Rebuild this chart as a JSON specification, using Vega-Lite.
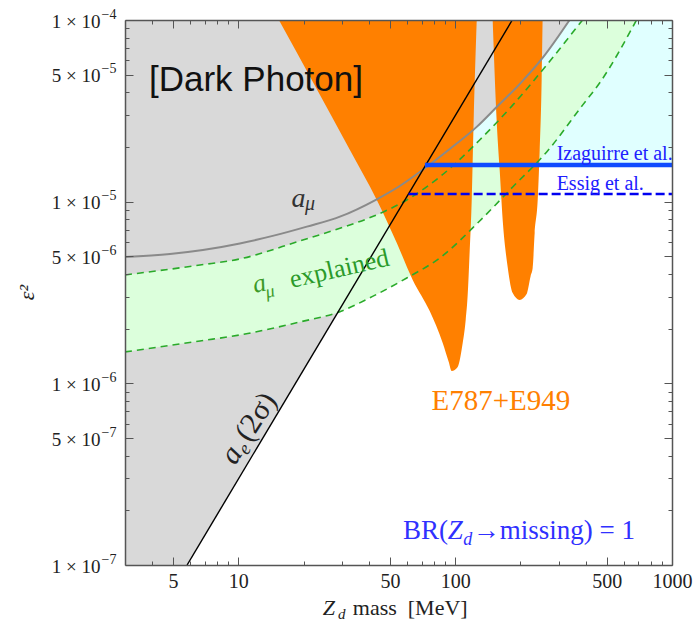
{
  "$schema": "https://vega.github.io/schema/vega-lite/v6.json",
  "width": 547,
  "height": 545,
  "autosize": {"type": "none"},
  "padding": {"left": 125, "top": 20, "right": 23, "bottom": 58},
  "background": "white",
  "config": {"view": {"stroke": null}, "axis": {"grid": false}},
  "datasets": {
    "cyan_region": [
      {"m": 72.5, "lo": 1.59e-5},
      {"m": 1000, "lo": 1.59e-5}
    ],
    "gray_region": [
      {"m": 3, "lo": 1e-7},
      {"m": 5.8, "lo": 1e-7},
      {"m": 71.6, "lo": 1.52e-5},
      {"m": 94.4, "lo": 1.95e-5},
      {"m": 125.7, "lo": 2.58e-5},
      {"m": 155.4, "lo": 3.32e-5},
      {"m": 198.4, "lo": 4.44e-5},
      {"m": 253, "lo": 6.18e-5},
      {"m": 337, "lo": 1e-4}
    ],
    "amu_curve": [
      {"m": 3, "eps": 4.96e-6},
      {"m": 4.835, "eps": 5.155e-6},
      {"m": 6.86, "eps": 5.42e-6},
      {"m": 10.16, "eps": 5.89e-6},
      {"m": 14.4, "eps": 6.48e-6},
      {"m": 20.7, "eps": 7.29e-6},
      {"m": 29.4, "eps": 8.27e-6},
      {"m": 43.5, "eps": 1.031e-5},
      {"m": 55.5, "eps": 1.22e-5},
      {"m": 71.6, "eps": 1.513e-5},
      {"m": 94.4, "eps": 1.95e-5},
      {"m": 125.7, "eps": 2.58e-5},
      {"m": 155.4, "eps": 3.32e-5},
      {"m": 198.4, "eps": 4.44e-5},
      {"m": 253, "eps": 6.18e-5},
      {"m": 337, "eps": 1e-4}
    ],
    "amu_band": [
      {"m": 3, "lo": 1.489e-6, "hi": 3.95e-6},
      {"m": 6.65, "lo": 1.711e-6, "hi": 4.48e-6},
      {"m": 10.16, "lo": 1.846e-6, "hi": 4.84e-6},
      {"m": 19.2, "lo": 2.177e-6, "hi": 6.08e-6},
      {"m": 29.4, "lo": 2.48e-6, "hi": 7.14e-6},
      {"m": 41.6, "lo": 3.01e-6, "hi": 8.28e-6},
      {"m": 59.8, "lo": 3.8e-6, "hi": 1.022e-5},
      {"m": 84.9, "lo": 4.9e-6, "hi": 1.368e-5},
      {"m": 129.7, "lo": 7.83e-6, "hi": 2.185e-5},
      {"m": 184.2, "lo": 1.205e-5, "hi": 3.4e-5},
      {"m": 264.3, "lo": 1.878e-5, "hi": 5.65e-5},
      {"m": 387, "lo": 3.4e-5, "hi": 1e-4},
      {"m": 463.5, "lo": 4.5e-5, "hi": 1.305e-4},
      {"m": 686, "lo": 1e-4, "hi": 2.43e-4}
    ],
    "e949": [
      {"part": "low", "m": 15.38, "lo": 1e-4},
      {"part": "low", "m": 32.7, "lo": 1.926e-5},
      {"part": "low", "m": 43.5, "lo": 1.022e-5},
      {"part": "low", "m": 53.8, "lo": 5.92e-6},
      {"part": "low", "m": 63.7, "lo": 3.71e-6},
      {"part": "low", "m": 76.3, "lo": 2.5e-6},
      {"part": "low", "m": 87.6, "lo": 1.668e-6},
      {"part": "low", "m": 93.4, "lo": 1.311e-6},
      {"part": "low", "m": 96.4, "lo": 1.17e-6},
      {"part": "low", "m": 102.7, "lo": 1.231e-6},
      {"part": "low", "m": 108.3, "lo": 1.668e-6},
      {"part": "low", "m": 111.8, "lo": 2.233e-6},
      {"part": "low", "m": 114.2, "lo": 3.07e-6},
      {"part": "low", "m": 116.7, "lo": 5.42e-6},
      {"part": "low", "m": 119.2, "lo": 1.022e-5},
      {"part": "low", "m": 121.7, "lo": 2.82e-5},
      {"part": "low", "m": 125.7, "lo": 1e-4},
      {"part": "high", "m": 148.9, "lo": 1e-4},
      {"part": "high", "m": 155.4, "lo": 2.76e-5},
      {"part": "high", "m": 160.4, "lo": 1.494e-5},
      {"part": "high", "m": 165.6, "lo": 7.93e-6},
      {"part": "high", "m": 174.6, "lo": 4.37e-6},
      {"part": "high", "m": 184.2, "lo": 3.14e-6},
      {"part": "high", "m": 198.4, "lo": 2.88e-6},
      {"part": "high", "m": 213.6, "lo": 3.1e-6},
      {"part": "high", "m": 222.9, "lo": 3.9e-6},
      {"part": "high", "m": 227.7, "lo": 4.31e-6},
      {"part": "high", "m": 232.6, "lo": 6.72e-6},
      {"part": "high", "m": 240.2, "lo": 1.022e-5},
      {"part": "high", "m": 245.3, "lo": 1.926e-5},
      {"part": "high", "m": 250.5, "lo": 4.68e-5},
      {"part": "high", "m": 253, "lo": 1e-4}
    ],
    "ae_line": [
      {"m": 5.8, "eps": 1e-7},
      {"m": 183.4, "eps": 1e-4}
    ],
    "izaguirre": [
      {"m": 72.5, "eps": 1.59e-5},
      {"m": 1000, "eps": 1.59e-5}
    ],
    "essig": [
      {"m": 61, "eps": 1.103e-5},
      {"m": 1000, "eps": 1.103e-5}
    ],
    "labels": [
      {"key": "model", "m": 3.87, "eps": 4.09e-5, "text": "[Dark Photon]"},
      {"key": "amu_a", "m": 17.6, "eps": 9.39e-6, "text": "a"},
      {"key": "amu_sub", "m": 20.3, "eps": 9.0e-6, "text": "μ"},
      {"key": "band_a", "m": 11.9, "eps": 3.14e-6, "text": "a"},
      {"key": "band_sub", "m": 13.5, "eps": 2.95e-6, "text": "μ"},
      {"key": "band_word", "m": 17.65, "eps": 3.35e-6, "text": "explained"},
      {"key": "ae_a", "m": 9.64, "eps": 3.51e-7, "text": "a"},
      {"key": "ae_sub", "m": 11.0, "eps": 3.99e-7, "text": "e"},
      {"key": "ae_cl", "m": 11.27, "eps": 4.68e-7, "text": "(2σ)"},
      {"key": "kaon", "m": 77.7, "eps": 7.14e-7, "text": "E787+E949"},
      {"key": "izag", "m": 293.7, "eps": 1.697e-5, "text": "Izaguirre et al."},
      {"key": "essig", "m": 293.7, "eps": 1.16e-5, "text": "Essig et al."},
      {"key": "br_open", "m": 57.5, "eps": 1.392e-7, "text": "BR("},
      {"key": "br_z", "m": 92.4, "eps": 1.392e-7, "text": "Z"},
      {"key": "br_d", "m": 108.9, "eps": 1.29e-7, "text": "d"},
      {"key": "br_rest", "m": 120.5, "eps": 1.392e-7, "text": "→missing) = 1"},
      {"key": "xt_z", "m": 24.5, "eps": 5.31e-8, "text": "Z"},
      {"key": "xt_d", "m": 28.8, "eps": 5.04e-8, "text": "d"},
      {"key": "xt_rest", "m": 33.7, "eps": 5.31e-8, "text": "mass\u00a0\u00a0[MeV]"}
    ]
  },
  "layer": [
    {
      "data": {"name": "cyan_region"},
      "mark": {"type": "area", "color": "#e0ffff", "clip": true},
      "encoding": {
        "x": {
          "field": "m", "type": "quantitative",
          "scale": {"type": "log", "domain": [3, 1000], "nice": false},
          "axis": {
            "orient": "top", "labels": false, "title": null, "zindex": 1,
            "values": [4, 5, 6, 7, 8, 9, 10, 20, 30, 40, 50, 60, 70, 80, 90, 100, 200, 300, 400, 500, 600, 700, 800, 900, 1000],
            "tickSize": {"condition": {"test": "abs(datum.value/pow(10,floor(log(datum.value)/LN10+0.000001))-1)<0.01 || abs(datum.value/pow(10,floor(log(datum.value)/LN10+0.000001))-5)<0.01", "value": -8}, "value": -4},
            "tickColor": "#555", "tickWidth": 1, "domainColor": "#555", "domainWidth": 1.5
          }
        },
        "y": {
          "field": "lo", "type": "quantitative", "stack": null,
          "scale": {"type": "log", "domain": [1e-7, 1e-4], "nice": false},
          "axis": {
            "orient": "right", "labels": false, "title": null, "zindex": 1,
            "values": [1e-7, 2e-7, 3e-7, 4e-7, 5e-7, 6e-7, 7e-7, 8e-7, 9e-7, 1e-6, 2e-6, 3e-6, 4e-6, 5e-6, 6e-6, 7e-6, 8e-6, 9e-6, 1e-5, 2e-5, 3e-5, 4e-5, 5e-5, 6e-5, 7e-5, 8e-5, 9e-5, 1e-4],
            "tickSize": {"condition": {"test": "abs(datum.value/pow(10,floor(log(datum.value)/LN10+0.000001))-1)<0.01 || abs(datum.value/pow(10,floor(log(datum.value)/LN10+0.000001))-5)<0.01", "value": -8}, "value": -4},
            "tickColor": "#555", "tickWidth": 1, "domainColor": "#555", "domainWidth": 1.5
          }
        },
        "y2": {"datum": 1e-4}
      }
    },
    {
      "data": {"name": "gray_region"},
      "mark": {"type": "area", "color": "#d9d9d9", "clip": true, "interpolate": "linear"},
      "encoding": {
        "x": {
          "field": "m", "type": "quantitative",
          "scale": {"type": "log", "domain": [3, 1000], "nice": false},
          "axis": {
            "orient": "bottom", "title": null, "zindex": 1, "labels": false,
            "values": [4, 5, 6, 7, 8, 9, 10, 20, 30, 40, 50, 60, 70, 80, 90, 100, 200, 300, 400, 500, 600, 700, 800, 900, 1000],
            "tickSize": {"condition": {"test": "abs(datum.value/pow(10,floor(log(datum.value)/LN10+0.000001))-1)<0.01 || abs(datum.value/pow(10,floor(log(datum.value)/LN10+0.000001))-5)<0.01", "value": -8}, "value": -4},
            "tickColor": "#555", "tickWidth": 1, "domainColor": "#555", "domainWidth": 1.5
          }
        },
        "y": {
          "field": "lo", "type": "quantitative", "stack": null,
          "scale": {"type": "log", "domain": [1e-7, 1e-4], "nice": false},
          "axis": {
            "orient": "left", "zindex": 1, "labels": false,
            "values": [1e-7, 2e-7, 3e-7, 4e-7, 5e-7, 6e-7, 7e-7, 8e-7, 9e-7, 1e-6, 2e-6, 3e-6, 4e-6, 5e-6, 6e-6, 7e-6, 8e-6, 9e-6, 1e-5, 2e-5, 3e-5, 4e-5, 5e-5, 6e-5, 7e-5, 8e-5, 9e-5, 1e-4],
            "tickSize": {"condition": {"test": "abs(datum.value/pow(10,floor(log(datum.value)/LN10+0.000001))-1)<0.01 || abs(datum.value/pow(10,floor(log(datum.value)/LN10+0.000001))-5)<0.01", "value": -8}, "value": -4},
            "tickColor": "#555", "tickWidth": 1, "domainColor": "#555", "domainWidth": 1.5,
            "title": "ε²", "titleFont": "Liberation Serif", "titleFontStyle": "italic", "titleFontWeight": "normal",
            "titleFontSize": 22, "titleColor": "#222", "titleAngle": -90,
            "titleX": -92, "titleY": 272, "titleAlign": "center", "titleBaseline": "alphabetic"
          }
        },
        "y2": {"datum": 1e-4}
      }
    },
    {
      "data": {"name": "amu_band"},
      "mark": {"type": "area", "color": "#dcffdc", "clip": true, "interpolate": "monotone"},
      "encoding": {
        "x": {
          "field": "m", "type": "quantitative",
          "axis": {
            "orient": "bottom", "title": null, "zindex": 1, "ticks": false, "domain": false,
            "values": [5, 10, 50, 100, 500, 1000],
            "labelExpr": "format(datum.value, 'd')",
            "labelFlush": false, "labelOverlap": false,
            "labelFont": "Liberation Serif", "labelFontSize": 20, "labelColor": "#222", "labelPadding": 6
          }
        },
        "y": {
          "field": "lo", "type": "quantitative", "stack": null,
          "axis": {
            "orient": "left", "title": null, "zindex": 1, "ticks": false, "domain": false,
            "values": [1e-7, 5e-7, 1e-6, 5e-6, 1e-5, 5e-5, 1e-4],
            "labelExpr": "round(datum.value/pow(10,floor(log(datum.value)/LN10+0.000001))) + ' × 10'",
            "labelOverlap": false, "labelFlush": false, "labelAlign": "right", "labelBaseline": "middle",
            "labelFont": "Liberation Serif", "labelFontSize": 19, "labelColor": "#222", "labelPadding": 25, "labelOffset": 1
          }
        },
        "y2": {"field": "hi"}
      }
    },
    {
      "data": {"name": "e949"},
      "mark": {"type": "area", "color": "#ff8000", "clip": true, "interpolate": "monotone"},
      "encoding": {
        "x": {"field": "m", "type": "quantitative", "axis": null},
        "y": {
          "field": "lo", "type": "quantitative", "stack": null,
          "axis": {
            "orient": "left", "title": null, "zindex": 1, "ticks": false, "domain": false,
            "values": [1e-7, 5e-7, 1e-6, 5e-6, 1e-5, 5e-5, 1e-4],
            "labelExpr": "['−4','−5','−6','−7'][-4-floor(log(datum.value)/LN10+0.000001)]",
            "labelOverlap": false, "labelFlush": false, "labelAlign": "left", "labelBaseline": "middle",
            "labelFont": "Liberation Serif", "labelFontSize": 14, "labelColor": "#222", "labelPadding": 24, "labelOffset": -6
          }
        },
        "y2": {"datum": 1e-4},
        "detail": {"field": "part"}
      }
    },
    {
      "data": {"name": "amu_curve"},
      "mark": {"type": "line", "color": "#8a8a8a", "strokeWidth": 2, "clip": true, "interpolate": "monotone"},
      "encoding": {
        "x": {"field": "m", "type": "quantitative", "axis": null},
        "y": {"field": "eps", "type": "quantitative", "axis": null}
      }
    },
    {
      "data": {"name": "amu_band"},
      "mark": {"type": "line", "color": "#2aaa2a", "strokeWidth": 1.6, "strokeDash": [7, 5], "clip": true, "interpolate": "monotone"},
      "encoding": {
        "x": {"field": "m", "type": "quantitative", "axis": null},
        "y": {"field": "hi", "type": "quantitative", "axis": null}
      }
    },
    {
      "data": {"name": "amu_band"},
      "mark": {"type": "line", "color": "#2aaa2a", "strokeWidth": 1.6, "strokeDash": [7, 5], "clip": true, "interpolate": "monotone"},
      "encoding": {
        "x": {"field": "m", "type": "quantitative", "axis": null},
        "y": {"field": "lo", "type": "quantitative", "axis": null}
      }
    },
    {
      "data": {"name": "ae_line"},
      "mark": {"type": "line", "color": "#000000", "strokeWidth": 1.4, "clip": true},
      "encoding": {
        "x": {"field": "m", "type": "quantitative", "axis": null},
        "y": {"field": "eps", "type": "quantitative", "axis": null}
      }
    },
    {
      "data": {"name": "izaguirre"},
      "mark": {"type": "line", "color": "#0f4bff", "strokeWidth": 4.5, "clip": true},
      "encoding": {
        "x": {"field": "m", "type": "quantitative", "axis": null},
        "y": {"field": "eps", "type": "quantitative", "axis": null}
      }
    },
    {
      "data": {"name": "essig"},
      "mark": {"type": "line", "color": "#0000f0", "strokeWidth": 2.4, "strokeDash": [9, 4], "clip": true},
      "encoding": {
        "x": {"field": "m", "type": "quantitative", "axis": null},
        "y": {"field": "eps", "type": "quantitative", "axis": null}
      }
    },
    {
      "data": {"name": "labels"},
      "transform": [{"filter": "datum.key == 'model'"}],
      "mark": {"type": "text", "font": "Liberation Sans", "fontSize": 35, "color": "#111", "align": "left", "baseline": "alphabetic"},
      "encoding": {
        "x": {"field": "m", "type": "quantitative", "axis": null},
        "y": {"field": "eps", "type": "quantitative", "axis": null},
        "text": {"field": "text"}
      }
    },
    {
      "data": {"name": "labels"},
      "transform": [{"filter": "datum.key == 'amu_a'"}],
      "mark": {"type": "text", "font": "Liberation Serif", "fontStyle": "italic", "fontSize": 28, "color": "#333", "align": "left", "baseline": "alphabetic"},
      "encoding": {
        "x": {"field": "m", "type": "quantitative", "axis": null},
        "y": {"field": "eps", "type": "quantitative", "axis": null},
        "text": {"field": "text"}
      }
    },
    {
      "data": {"name": "labels"},
      "transform": [{"filter": "datum.key == 'amu_sub'"}],
      "mark": {"type": "text", "font": "Liberation Serif", "fontStyle": "italic", "fontSize": 20, "color": "#333", "align": "left", "baseline": "alphabetic"},
      "encoding": {
        "x": {"field": "m", "type": "quantitative", "axis": null},
        "y": {"field": "eps", "type": "quantitative", "axis": null},
        "text": {"field": "text"}
      }
    },
    {
      "data": {"name": "labels"},
      "transform": [{"filter": "datum.key == 'band_a'"}],
      "mark": {"type": "text", "font": "Liberation Serif", "fontStyle": "italic", "fontSize": 26, "color": "#3c9a28", "align": "left", "baseline": "alphabetic", "angle": -13},
      "encoding": {
        "x": {"field": "m", "type": "quantitative", "axis": null},
        "y": {"field": "eps", "type": "quantitative", "axis": null},
        "text": {"field": "text"}
      }
    },
    {
      "data": {"name": "labels"},
      "transform": [{"filter": "datum.key == 'band_sub'"}],
      "mark": {"type": "text", "font": "Liberation Serif", "fontStyle": "italic", "fontSize": 18, "color": "#3c9a28", "align": "left", "baseline": "alphabetic", "angle": -13},
      "encoding": {
        "x": {"field": "m", "type": "quantitative", "axis": null},
        "y": {"field": "eps", "type": "quantitative", "axis": null},
        "text": {"field": "text"}
      }
    },
    {
      "data": {"name": "labels"},
      "transform": [{"filter": "datum.key == 'band_word'"}],
      "mark": {"type": "text", "font": "Liberation Serif", "fontSize": 26, "color": "#2a9a2a", "align": "left", "baseline": "alphabetic", "angle": -13},
      "encoding": {
        "x": {"field": "m", "type": "quantitative", "axis": null},
        "y": {"field": "eps", "type": "quantitative", "axis": null},
        "text": {"field": "text"}
      }
    },
    {
      "data": {"name": "labels"},
      "transform": [{"filter": "datum.key == 'ae_a'"}],
      "mark": {"type": "text", "font": "Liberation Serif", "fontStyle": "italic", "fontSize": 30, "color": "#222", "align": "left", "baseline": "alphabetic", "angle": -57},
      "encoding": {
        "x": {"field": "m", "type": "quantitative", "axis": null},
        "y": {"field": "eps", "type": "quantitative", "axis": null},
        "text": {"field": "text"}
      }
    },
    {
      "data": {"name": "labels"},
      "transform": [{"filter": "datum.key == 'ae_cl'"}],
      "mark": {"type": "text", "font": "Liberation Serif", "fontSize": 30, "color": "#222", "align": "left", "baseline": "alphabetic", "angle": -57},
      "encoding": {
        "x": {"field": "m", "type": "quantitative", "axis": null},
        "y": {"field": "eps", "type": "quantitative", "axis": null},
        "text": {"field": "text"}
      }
    },
    {
      "data": {"name": "labels"},
      "transform": [{"filter": "datum.key == 'ae_sub'"}],
      "mark": {"type": "text", "font": "Liberation Serif", "fontStyle": "italic", "fontSize": 19, "color": "#222", "align": "left", "baseline": "alphabetic", "angle": -57},
      "encoding": {
        "x": {"field": "m", "type": "quantitative", "axis": null},
        "y": {"field": "eps", "type": "quantitative", "axis": null},
        "text": {"field": "text"}
      }
    },
    {
      "data": {"name": "labels"},
      "transform": [{"filter": "datum.key == 'kaon'"}],
      "mark": {"type": "text", "font": "Liberation Serif", "fontSize": 29, "color": "#ff8000", "align": "left", "baseline": "alphabetic"},
      "encoding": {
        "x": {"field": "m", "type": "quantitative", "axis": null},
        "y": {"field": "eps", "type": "quantitative", "axis": null},
        "text": {"field": "text"}
      }
    },
    {
      "data": {"name": "labels"},
      "transform": [{"filter": "datum.key == 'izag' || datum.key == 'essig'"}],
      "mark": {"type": "text", "font": "Liberation Serif", "fontSize": 20, "color": "#2020ff", "align": "left", "baseline": "alphabetic", "clip": true},
      "encoding": {
        "x": {"field": "m", "type": "quantitative", "axis": null},
        "y": {"field": "eps", "type": "quantitative", "axis": null},
        "text": {"field": "text"}
      }
    },
    {
      "data": {"name": "labels"},
      "transform": [{"filter": "datum.key == 'br_open' || datum.key == 'br_rest'"}],
      "mark": {"type": "text", "font": "Liberation Serif", "fontSize": 27, "color": "#3030ff", "align": "left", "baseline": "alphabetic"},
      "encoding": {
        "x": {"field": "m", "type": "quantitative", "axis": null},
        "y": {"field": "eps", "type": "quantitative", "axis": null},
        "text": {"field": "text"}
      }
    },
    {
      "data": {"name": "labels"},
      "transform": [{"filter": "datum.key == 'br_z'"}],
      "mark": {"type": "text", "font": "Liberation Serif", "fontStyle": "italic", "fontSize": 27, "color": "#3030ff", "align": "left", "baseline": "alphabetic"},
      "encoding": {
        "x": {"field": "m", "type": "quantitative", "axis": null},
        "y": {"field": "eps", "type": "quantitative", "axis": null},
        "text": {"field": "text"}
      }
    },
    {
      "data": {"name": "labels"},
      "transform": [{"filter": "datum.key == 'br_d'"}],
      "mark": {"type": "text", "font": "Liberation Serif", "fontStyle": "italic", "fontSize": 18, "color": "#3030ff", "align": "left", "baseline": "alphabetic"},
      "encoding": {
        "x": {"field": "m", "type": "quantitative", "axis": null},
        "y": {"field": "eps", "type": "quantitative", "axis": null},
        "text": {"field": "text"}
      }
    },
    {
      "data": {"name": "labels"},
      "transform": [{"filter": "datum.key == 'xt_z'"}],
      "mark": {"type": "text", "font": "Liberation Serif", "fontStyle": "italic", "fontSize": 22, "color": "#222", "align": "left", "baseline": "alphabetic"},
      "encoding": {
        "x": {"field": "m", "type": "quantitative", "axis": null},
        "y": {"field": "eps", "type": "quantitative", "axis": null},
        "text": {"field": "text"}
      }
    },
    {
      "data": {"name": "labels"},
      "transform": [{"filter": "datum.key == 'xt_d'"}],
      "mark": {"type": "text", "font": "Liberation Serif", "fontStyle": "italic", "fontSize": 15, "color": "#222", "align": "left", "baseline": "alphabetic"},
      "encoding": {
        "x": {"field": "m", "type": "quantitative", "axis": null},
        "y": {"field": "eps", "type": "quantitative", "axis": null},
        "text": {"field": "text"}
      }
    },
    {
      "data": {"name": "labels"},
      "transform": [{"filter": "datum.key == 'xt_rest'"}],
      "mark": {"type": "text", "font": "Liberation Serif", "fontSize": 22, "color": "#222", "align": "left", "baseline": "alphabetic"},
      "encoding": {
        "x": {"field": "m", "type": "quantitative", "axis": null},
        "y": {"field": "eps", "type": "quantitative", "axis": null},
        "text": {"field": "text"}
      }
    }
  ],
  "resolve": {"axis": {"x": "independent", "y": "independent"}}
}
